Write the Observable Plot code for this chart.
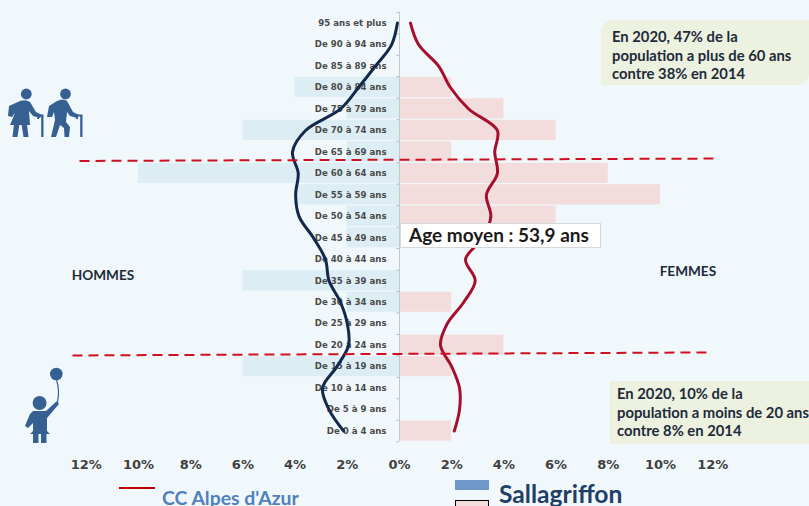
<!DOCTYPE html>
<html lang="fr"><head><meta charset="utf-8">
<script src="https://cdn.jsdelivr.net/npm/d3@7"></script>
<script src="https://cdn.jsdelivr.net/npm/@observablehq/plot@0.6"></script>
<style>
html,body{margin:0;padding:0;background:#F1F8FB;width:809px;height:506px;overflow:hidden}
#c{position:absolute;left:0;top:0}
.a{position:absolute;font-family:Lato,sans-serif;font-weight:700}
.note{background:#EDF1E0;color:#1d2b3a;font-size:14.8px;line-height:18.7px;box-sizing:border-box;white-space:nowrap;overflow:hidden}
svg.i{position:absolute;left:0;top:0;pointer-events:none}
</style></head><body>
<div id="c"></div>
<svg class="i" width="809" height="506" fill="#366092" stroke="none">
  <circle cx="26.3" cy="94" r="5.4"/>
  <path d="M20 101 Q26 99 30 102 L36 112 L42 115 L40 118 L33 116 L29 111 L30 125 H10 L15 113 L12 117 L8 116 L9 106Z"/>
  <path d="M14 124h5.500l-2 13h-5zM21.500 124h5.500l1.500 13h-5z"/>
  <path d="M38 114.500h5.500v22.500h-2.300v-20.500h-2.200v2.500h-2z"/>
  <circle cx="65.5" cy="94" r="5.4"/>
  <path d="M57 101 Q63 98 67 101 L73 112 L79 115 L77 118 L70 116 L67 112 L66 122 L70 127 L69 137 H64.500 L64 128 L60 125 L56 137 H51 L55 120 L54 112 L52 117 H47 L49 106Z"/>
  <path d="M77 114.500h5.500v22.500h-2.300v-20.500h-2.200v2.500h-2z"/>
  <circle cx="56.300" cy="374" r="6.300"/>
  <path d="M56.500 380 Q60 390 57.500 402" fill="none" stroke="#366092" stroke-width="1.200"/>
  <circle cx="39.600" cy="403" r="7"/>
  <path d="M33 411 H46 L57 401 L59 404 L47 418 V431 L50 434 H30 L33 431 V423 L28 428 L25 426 L30 414Z"/>
  <path d="M33 433h5.500v10h-5.500zM41 433h5.500v10h-5.500z"/>
</svg>
<div class="a note" style="left:601px;top:20px;width:208px;height:65px;padding:7px 0 0 11px;border-radius:12px 0 12px 0">En 2020, 47% de la<br>population a plus de 60 ans<br>contre 38% en 2014</div>
<div class="a note" style="left:610px;top:381px;width:199px;height:63px;padding:3px 0 0 7px">En 2020, 10% de la<br>population a moins de 20 ans<br>contre 8% en 2014</div>
<div class="a" style="left:400px;top:223px;width:201px;height:25px;box-sizing:border-box;background:#fff;border:1.500px solid #d4d8da;color:#1a1a1a;font-size:19px;line-height:22px;padding-left:8px;white-space:nowrap">Age moyen : 53,9 ans</div>
<div class="a" style="left:119px;top:487px;width:36px;height:2px;background:#C00000"></div>
<div class="a" style="left:162px;top:486px;font-size:19.4px;color:#4F81BD;white-space:nowrap;line-height:24px">CC Alpes d'Azur</div>
<div class="a" style="left:455px;top:480px;width:34px;height:10px;background:#6F97C8"></div>
<div class="a" style="left:455px;top:500px;width:32px;height:10px;background:#F2DCDC;border:1px solid #000"></div>
<div class="a" style="left:499px;top:479px;font-size:24.6px;color:#1F3F68;white-space:nowrap;line-height:30px">Sallagriffon</div>
<script>
const categories = ["95 ans et plus","De 90 à 94 ans","De 85 à 89 ans","De 80 à 84 ans","De 75 à 79 ans","De 70 à 74 ans","De 65 à 69 ans","De 60 à 64 ans","De 55 à 59 ans","De 50 à 54 ans","De 45 à 49 ans","De 40 à 44 ans","De 35 à 39 ans","De 30 à 34 ans","De 25 à 29 ans","De 20 à 24 ans","De 15 à 19 ans","De 10 à 14 ans","De 5 à 9 ans","De 0 à 4 ans"];
const hommes = [0,0,0,4,2,6,2,10,4,2,2,0,6,2,0,0,6,0,0,0];
const femmes = [0,0,0,2,4,6,2,8,10,6,0,0,0,2,0,4,2,0,0,2];
const ccHommes = [0.08,0.3,0.92,1.57,2.26,3.6,4.1,3.88,3.98,3.85,3.3,2.84,2.7,2.26,2.0,1.95,2.4,2.95,2.7,2.14];
const ccFemmes = [0.42,0.73,1.5,1.95,2.65,3.75,3.65,3.75,3.33,3.5,3.2,2.53,2.9,2.46,1.83,1.57,2.0,2.3,2.3,2.1];
const xTicks = [-12,-10,-8,-6,-4,-2,0,2,4,6,8,10,12];
const seuilHaut = {x1:-12.26,x2:12.03,y1:6.42,y2:6.31};
const seuilBas = {x1:-12.53,x2:11.76,y1:15.48,y2:15.34};

const idx = categories.map((_,i)=>i);
const last = categories.length-1;
const bounds = d3.range(-0.5,last+1);
const chart = Plot.plot({
  width:809,height:506,
  marginLeft:59.7,marginRight:70.7,marginTop:22.6,marginBottom:506-22.6-21.47*last,
  style:{background:"transparent",overflow:"visible"},
  x:{domain:[-13,13],range:[59.7,738.3]},
  y:{domain:[0,last],range:[22.6,22.6+21.47*last],axis:null},
  marks:[
    Plot.rectX(idx.filter(i=>hommes[i]>0),{x1:i=>-hommes[i],x2:0,y1:i=>i-0.47,y2:i=>i+0.47,fill:"#DCEEF4"}),
    Plot.rectX(idx.filter(i=>femmes[i]>0),{x1:0,x2:i=>femmes[i],y1:i=>i-0.47,y2:i=>i+0.47,fill:"#F2DCDC"}),
    Plot.ruleX([0],{y1:-0.5,y2:last+0.5,stroke:"#c4c9cc",strokeWidth:1}),
    Plot.ruleY(bounds,{x1:-0.1,x2:0,stroke:"#b5babd",strokeWidth:1}),
    Plot.text(idx,{x:0,y:i=>i,text:i=>categories[i],textAnchor:"end",dx:-13,fontSize:8.6,fontWeight:"bold",fontFamily:"DejaVu Sans",fill:"#4a4a4a"}),
    Plot.axisX({ticks:xTicks,tickSize:0,tickPadding:29,tickFormat:d=>Math.abs(d)+"%",fontSize:13,fontWeight:"bold",fontFamily:"DejaVu Sans",fill:"#404040",label:null}),
    Plot.text(["HOMMES"],{x:-11.36,y:11.75,text:d=>d,fontSize:13.6,fontWeight:"bold",fontFamily:"Lato",fill:"#1d2b3a"}),
    Plot.text(["FEMMES"],{x:11.05,y:11.58,text:d=>d,fontSize:13.6,fontWeight:"bold",fontFamily:"Lato",fill:"#1d2b3a"}),
    Plot.line(idx,{x:i=>-ccHommes[i],y:i=>i,curve:"catmull-rom",stroke:"#12294B",strokeWidth:3}),
    Plot.line(idx,{x:i=>ccFemmes[i],y:i=>i,curve:"catmull-rom",stroke:"#A50F2D",strokeWidth:3}),
    Plot.link([seuilHaut,seuilBas],{x1:"x1",x2:"x2",y1:"y1",y2:"y2",stroke:"#D01020",strokeWidth:2,strokeDasharray:"10,6"})
  ]
});
document.getElementById("c").appendChild(chart);
</script>
</body></html>
